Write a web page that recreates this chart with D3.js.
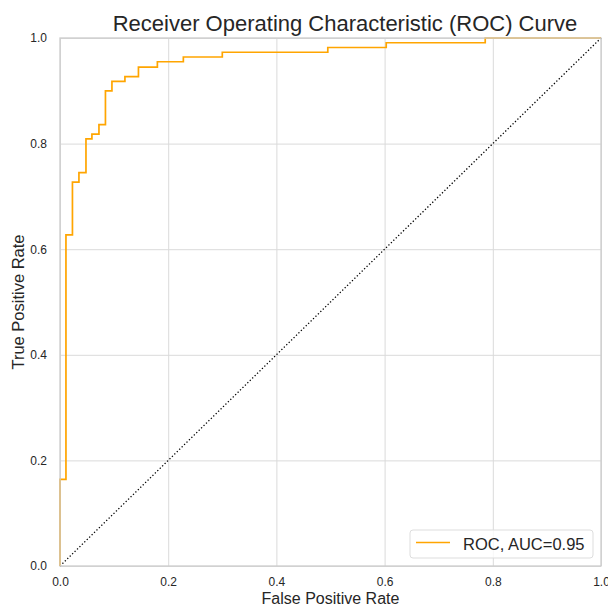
<!DOCTYPE html>
<html>
<head>
<meta charset="utf-8">
<script src="https://cdn.jsdelivr.net/npm/d3@7"></script>
<style>
  body { margin: 0; background: #fff; }
  text { font-family: "Liberation Sans", Arial, sans-serif; fill: #262626; }
</style>
</head>
<body>
<svg id="chart" width="608" height="605"></svg>
<script>
// ROC curve points
let fpr = [0, 0, 0.011, 0.011, 0.023, 0.023, 0.035, 0.035, 0.048, 0.048, 0.059, 0.059,
    0.072, 0.072, 0.084, 0.084, 0.096, 0.096, 0.120, 0.120, 0.145, 0.145, 0.180, 0.180,
    0.228, 0.228, 0.300, 0.300, 0.495, 0.495, 0.603, 0.603, 0.786, 0.786, 1.0];
let tpr = [0, 0.164, 0.164, 0.627, 0.627, 0.727, 0.727, 0.745, 0.745, 0.809, 0.809, 0.818,
    0.818, 0.836, 0.836, 0.900, 0.900, 0.918, 0.918, 0.927, 0.927, 0.945, 0.945, 0.955,
    0.955, 0.964, 0.964, 0.973, 0.973, 0.982, 0.982, 0.991, 0.991, 1.0, 1.0];
let chance = [0, 1];
let ticks = [0, 0.2, 0.4, 0.6, 0.8, 1.0];
let legendLabel = "ROC, AUC=0.95";

let svg = d3.select("#chart");
// plot area extents
let pLeft = 60, pRight = 601, pTop = 38, pBottom = 566;

let x = d3.scaleLinear().domain([0, 1]).range([pLeft, pRight]);
let y = d3.scaleLinear().domain([0, 1]).range([pBottom, pTop]);

// grid lines
svg.append("g")
    .attr("transform", "translate(0," + pBottom + ")")
    .call(d3.axisBottom(x).tickValues(ticks).tickSize(-(pBottom - pTop)).tickFormat(""))
    .call(g => g.select(".domain").remove())
    .call(g => g.selectAll("line").attr("stroke", "#dadada").attr("stroke-width", 1));
svg.append("g")
    .attr("transform", "translate(" + pLeft + ",0)")
    .call(d3.axisLeft(y).tickValues(ticks).tickSize(-(pRight - pLeft)).tickFormat(""))
    .call(g => g.select(".domain").remove())
    .call(g => g.selectAll("line").attr("stroke", "#dadada").attr("stroke-width", 1));

// tick labels
svg.append("g")
    .attr("transform", "translate(0," + pBottom + ")")
    .call(d3.axisBottom(x).tickValues(ticks).tickSize(0).tickPadding(11).tickFormat(d3.format(".1f")))
    .call(g => g.select(".domain").remove())
    .call(g => g.selectAll("text").style("font-size", "12px").style("font-family", "Liberation Sans, Arial, sans-serif").attr("fill", "#262626"));
svg.append("g")
    .attr("transform", "translate(" + pLeft + ",0)")
    .call(d3.axisLeft(y).tickValues(ticks).tickSize(0).tickPadding(13).tickFormat(d3.format(".1f")))
    .call(g => g.select(".domain").remove())
    .call(g => g.selectAll("text").style("font-size", "12px").style("font-family", "Liberation Sans, Arial, sans-serif").attr("fill", "#262626"));

// chance diagonal
svg.append("line")
    .attr("x1", x(chance[0]))
    .attr("y1", y(chance[0]))
    .attr("x2", x(chance[1]))
    .attr("y2", y(chance[1]))
    .attr("stroke", "black")
    .attr("stroke-width", 1.3)
    .attr("stroke-dasharray", "1.3,2.1");

// roc curve
let pts = fpr.map((d, i) => [d, tpr[i]]);
svg.append("path")
    .datum(pts)
    .attr("d", d3.line().x(d => x(d[0])).y(d => y(d[1])))
    .attr("fill", "none")
    .attr("stroke", "#ffa500")
    .attr("stroke-width", 1.7);

// frame
svg.append("rect")
    .attr("x", pLeft)
    .attr("y", pTop)
    .attr("width", pRight - pLeft)
    .attr("height", pBottom - pTop)
    .attr("fill", "none")
    .attr("stroke", "#cccccc")
    .attr("stroke-width", 1.3);

// title and axis labels
svg.append("text")
    .attr("x", 345)
    .attr("y", 31)
    .attr("text-anchor", "middle")
    .style("font-size", "22px")
    .text("Receiver Operating Characteristic (ROC) Curve");
svg.append("text")
    .attr("x", (pLeft + pRight) / 2)
    .attr("y", 604)
    .attr("text-anchor", "middle")
    .style("font-size", "16px")
    .text("False Positive Rate");
svg.append("text")
    .attr("transform", "translate(24," + (pTop + pBottom) / 2 + ") rotate(-90)")
    .attr("text-anchor", "middle")
    .style("font-size", "16.5px")
    .text("True Positive Rate");

// legend
let lg = svg.append("g").attr("transform", "translate(410,530)");
lg.append("rect")
    .attr("width", 183)
    .attr("height", 28)
    .attr("rx", 3)
    .attr("fill", "white")
    .attr("fill-opacity", 0.8)
    .attr("stroke", "#dddddd");
lg.append("line")
    .attr("x1", 6)
    .attr("x2", 40)
    .attr("y1", 12.5)
    .attr("y2", 12.5)
    .attr("stroke", "#ffa500")
    .attr("stroke-width", 1.7);
lg.append("text")
    .attr("x", 53)
    .attr("y", 19.5)
    .style("font-size", "16.5px")
    .text(legendLabel);
</script>
</body>
</html>
